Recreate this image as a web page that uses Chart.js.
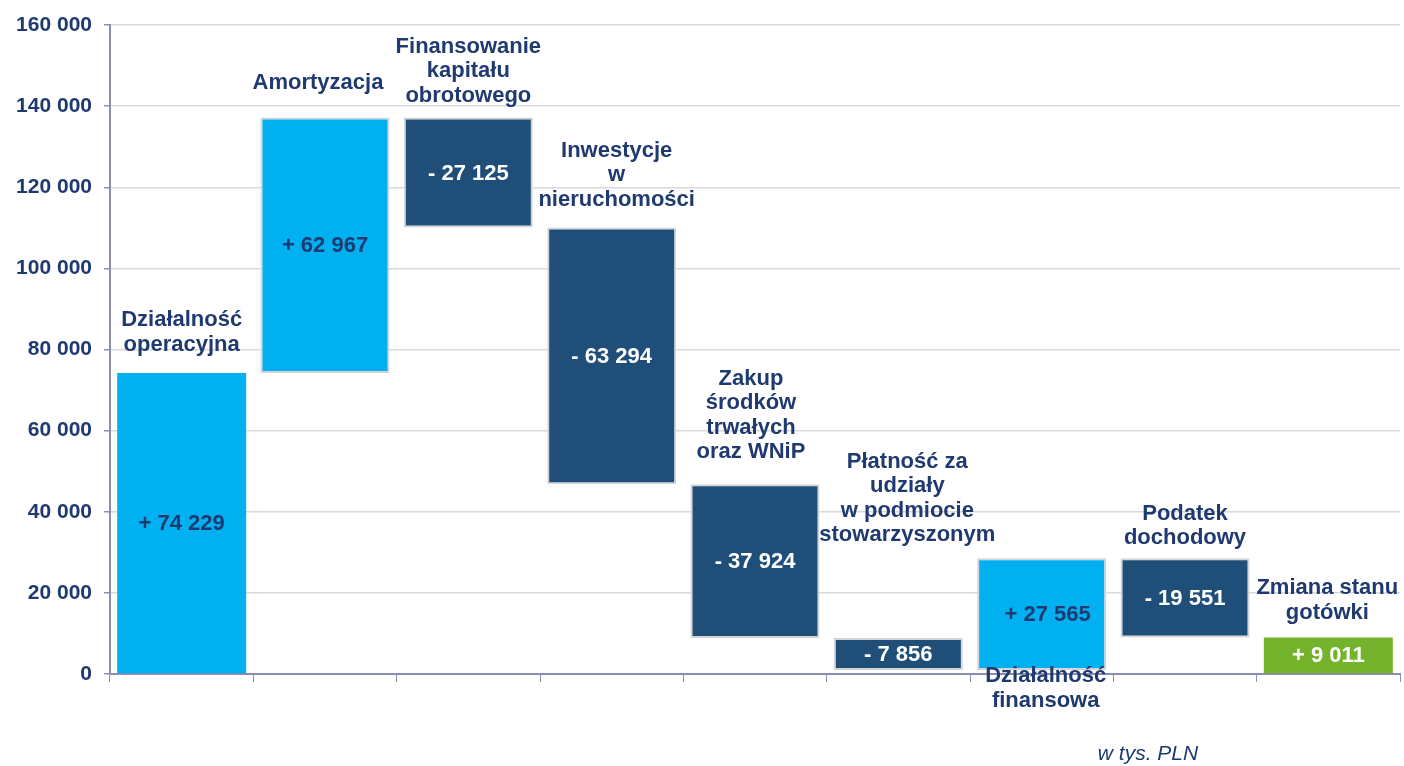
<!DOCTYPE html>
<html>
<head>
<meta charset="utf-8">
<script src="https://cdn.jsdelivr.net/npm/chart.js@4"></script>
<style>
  html, body { margin: 0; padding: 0; background: #fff; }
  #wrap { width: 1404px; height: 766px; position: relative; }
</style>
</head>
<body>
<div id="wrap"><canvas id="chart" width="1404" height="766"></canvas></div>
<script>
// dane (w tys. PLN)
const categories = [
  ['Działalność', 'operacyjna'],
  ['Amortyzacja'],
  ['Finansowanie', 'kapitału', 'obrotowego'],
  ['Inwestycje', 'w', 'nieruchomości'],
  ['Zakup', 'środków', 'trwałych', 'oraz WNiP'],
  ['Płatność za', 'udziały', 'w podmiocie', 'stowarzyszonym'],
  ['Działalność', 'finansowa'],
  ['Podatek', 'dochodowy'],
  ['Zmiana stanu', 'gotówki']
];
const changes = [74229, 62967, -27125, -63294, -37924, -7856, 27565, -19551, 9011];
const kinds = ['plus', 'plus', 'minus', 'minus', 'minus', 'minus', 'plus', 'minus', 'total'];
const yTicks = [0, 20000, 40000, 60000, 80000, 100000, 120000, 140000, 160000];

// kolory i styl
const NAVY = '#1f3a70';
const colors = { plus: '#00b0f0', minus: '#1f4e79', total: '#76b32c' };
const FONT = "'Liberation Sans', Arial, sans-serif";

// przedziały słupków (wodospad)
let running = 0;
const ranges = changes.map((v, i) => {
  if (kinds[i] === 'total') return [0, v];
  const start = running;
  running += v;
  return [start, running];
});

function fmt(n) {
  return Math.abs(n).toString().replace(/\B(?=(\d{3})+(?!\d))/g, ' ');
}

// przesunięcia etykiet kategorii (px): odstęp od góry słupka i przesunięcie w poziomie
const labelGap = [28, 35, 22, 28, 32, 103, -6, 20, 25];
const labelDx = [0, -7, 0, 5, -4, 9, 4, 0, -1];

const labelPlugin = {
  id: 'labels',
  afterDatasetsDraw(chart) {
    const ctx = chart.ctx;
    const meta = chart.getDatasetMeta(0);
    ctx.save();
    ctx.textAlign = 'center';
    ctx.textBaseline = 'middle';
    ctx.font = 'bold 22px ' + FONT;
    meta.data.forEach((bar, i) => {
      const top = Math.min(bar.y, bar.base);
      const bottom = Math.max(bar.y, bar.base);
      // wartość w środku słupka
      const sign = changes[i] < 0 ? '- ' : '+ ';
      ctx.fillStyle = kinds[i] === 'plus' ? NAVY : '#ffffff';
      ctx.fillText(sign + fmt(changes[i]), bar.x + (i === 6 ? 6 : 0), (top + bottom) / 2 + 1);
      // nazwa kategorii
      const lines = categories[i];
      const lh = 24.5;
      ctx.fillStyle = NAVY;
      const x = bar.x + labelDx[i];
      if (labelGap[i] < 0) {
        lines.forEach((t, k) => ctx.fillText(t, x, bottom - labelGap[i] + k * lh));
      } else {
        const last = top - labelGap[i];
        lines.forEach((t, k) => ctx.fillText(t, x, last - (lines.length - 1 - k) * lh));
      }
    });
    // jednostka
    ctx.font = 'italic 21px ' + FONT;
    ctx.fillText('w tys. PLN', 1148, 754);
    ctx.restore();
  }
};

new Chart(document.getElementById('chart'), {
  type: 'bar',
  data: {
    labels: categories.map(c => c.join(' ')),
    datasets: [{
      data: ranges,
      backgroundColor: kinds.map(k => colors[k]),
      borderColor: kinds.map((k, i) => (i === 0 || k === 'total') ? 'rgba(0,0,0,0)' : '#d4d4d4'),
      borderWidth: kinds.map((k, i) => (i === 0 || k === 'total') ? 0 : 2),
      borderSkipped: false,
      categoryPercentage: 1,
      barPercentage: 0.9
    }]
  },
  options: {
    responsive: false,
    animation: false,
    layout: { padding: { top: 25, right: 4, left: 0, bottom: 0 } },
    plugins: { legend: { display: false }, tooltip: { enabled: false } },
    scales: {
      x: {
        grid: { drawOnChartArea: false, color: '#8a8eb0', tickLength: 8, offset: true },
        border: { color: '#8a8eb0', width: 2 },
        ticks: { callback: () => '' },
        afterFit: s => { s.height = 766 - 674; }
      },
      y: {
        min: 0,
        max: 160000,
        afterBuildTicks: s => { s.ticks = yTicks.map(v => ({ value: v })); },
        grid: { color: '#d9d9d9', lineWidth: 1.5, tickColor: '#8a8eb0', tickLength: 6 },
        border: { color: '#8a8eb0', width: 2 },
        ticks: {
          padding: 12,
          color: NAVY,
          font: { family: FONT, size: 21, weight: 'bold' },
          callback: v => fmt(v)
        },
        afterFit: s => { s.width = 110; }
      }
    }
  },
  plugins: [labelPlugin]
});
</script>
</body>
</html>
